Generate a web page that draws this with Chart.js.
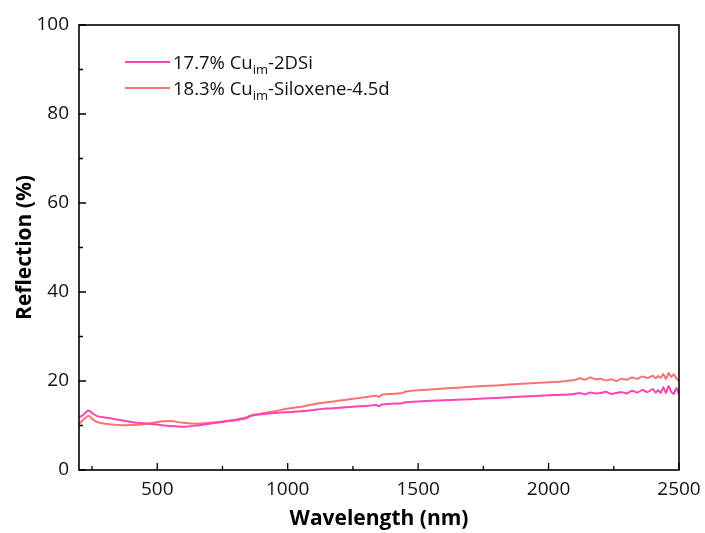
<!DOCTYPE html>
<html>
<head>
<meta charset="utf-8">
<script src="https://cdn.jsdelivr.net/npm/chart.js@4.4.0/dist/chart.umd.min.js"></script>
<style>
  html, body { margin: 0; padding: 0; background: #fff; }
  #wrap { position: relative; width: 705px; height: 533px; }
  canvas { position: absolute; left: 0; top: 0; }
  .leg { position: absolute; left: 125px; height: 26px; font-family: "Open Sans", "Noto Sans", sans-serif; font-size: 18.5px; line-height: 26px; color: #111; white-space: nowrap; }
  .leg .ln { position: absolute; left: 0; top: 12px; width: 45px; height: 2px; }
  .leg .tx { position: absolute; left: 48px; top: 0; }
  .leg sub { font-size: 13px; vertical-align: -5px; line-height: 0; }
</style>
</head>
<body>
<div id="wrap">
  <canvas id="c" width="705" height="533"></canvas>
  <div class="leg" style="top:49px"><span class="ln" style="background:#ff42b4"></span><span class="tx">17.7% Cu<sub>im</sub>-2DSi</span></div>
  <div class="leg" style="top:75px"><span class="ln" style="background:#f97370"></span><span class="tx">18.3% Cu<sub>im</sub>-Siloxene-4.5d</span></div>
</div>
<script>
const wavelengths = [200,215,230,240,250,270,300,350,400,450,500,550,600,650,700,750,800,840,860,900,950,1000,1050,1100,1150,1200,1250,1300,1340,1350,1360,1400,1440,1450,1500,1600,1700,1800,1900,2000,2050,2100,2120,2140,2160,2180,2200,2220,2240,2260,2280,2300,2320,2340,2360,2380,2400,2410,2420,2430,2440,2450,2460,2470,2480,2490,2500];
const series2DSi = [11.8,12.3,13.2,13.3,12.8,12.1,11.8,11.3,10.8,10.5,10.2,9.9,9.7,10.0,10.4,10.8,11.2,11.6,12.2,12.5,12.8,13.0,13.2,13.5,13.8,14.0,14.2,14.4,14.6,14.3,14.7,14.9,15.0,15.2,15.4,15.7,15.9,16.2,16.5,16.8,16.9,17.1,17.3,17.0,17.4,17.2,17.3,17.6,17.1,17.3,17.5,17.2,17.8,17.4,18.0,17.5,18.2,17.4,17.9,17.3,18.6,17.3,18.9,17.6,17.1,18.4,17.0];
const seriesSiloxene = [10.4,11.2,12.0,12.1,11.5,10.8,10.4,10.1,10.1,10.3,10.8,11.0,10.6,10.4,10.6,10.9,11.3,11.8,12.3,12.7,13.2,13.8,14.2,14.8,15.2,15.6,16.0,16.4,16.7,16.4,16.9,17.1,17.3,17.6,17.9,18.3,18.7,19.0,19.4,19.7,19.9,20.2,20.6,20.3,20.8,20.4,20.5,20.1,20.4,20.0,20.5,20.3,20.8,20.5,21.0,20.7,21.2,20.6,21.1,20.7,21.6,20.4,21.8,20.9,21.5,20.6,19.9];
const seriesLabels = ["17.7% Cu_im-2DSi", "18.3% Cu_im-Siloxene-4.5d"];
const xTickLabels = [500,1000,1500,2000,2500];
const yTickLabels = [0,20,40,60,80,100];
const xMinorTicks = [250,500,750,1000,1250,1500,1750,2000,2250,2500];
const yMinorTicks = [0,10,20,30,40,50,60,70,80,90,100];

const FONT = '"Open Sans", "Noto Sans", sans-serif';

const frame = {
  id: 'frame',
  afterDraw(chart) {
    const {ctx, chartArea: a, scales} = chart;
    ctx.save();
    ctx.strokeStyle = '#000';
    ctx.lineWidth = 1.6;
    ctx.strokeRect(a.left, a.top, a.right - a.left, a.bottom - a.top);
    ctx.lineWidth = 1.3;
    ctx.beginPath();
    xMinorTicks.forEach(v => {
      const x = scales.x.getPixelForValue(v);
      const len = xTickLabels.includes(v) ? 7 : 4;
      ctx.moveTo(x, a.bottom); ctx.lineTo(x, a.bottom - len);
    });
    yMinorTicks.forEach(v => {
      const y = scales.y.getPixelForValue(v);
      const len = yTickLabels.includes(v) ? 7 : 4;
      ctx.moveTo(a.left, y); ctx.lineTo(a.left + len, y);
    });
    ctx.stroke();
    ctx.restore();
  }
};

new Chart(document.getElementById('c'), {
  type: 'line',
  data: {
    datasets: [
      { label: seriesLabels[0], data: wavelengths.map((w, i) => ({x: w, y: series2DSi[i]})), borderColor: '#ff42b4', borderWidth: 2, pointRadius: 0, tension: 0.2 },
      { label: seriesLabels[1], data: wavelengths.map((w, i) => ({x: w, y: seriesSiloxene[i]})), borderColor: '#f97370', borderWidth: 2, pointRadius: 0, tension: 0.2 }
    ]
  },
  options: {
    responsive: false,
    animation: false,
    layout: { padding: { left: 0, right: 26, top: 25, bottom: 0 } },
    plugins: { legend: { display: false }, tooltip: { enabled: false } },
    scales: {
      x: {
        type: 'linear', min: 200, max: 2500,
        afterBuildTicks: s => { s.ticks = xTickLabels.map(v => ({value: v})); },
        afterFit: s => { s.height = 63; s.paddingLeft = 0; s.paddingRight = 0; },
        grid: { display: false, drawTicks: false },
        border: { display: false },
        ticks: { padding: 8, color: '#111', font: { family: FONT, size: 19 }, maxRotation: 0, callback: v => String(v) },
        title: { display: true, text: 'Wavelength (nm)', color: '#000', font: { family: FONT, size: 21, weight: 'bold' }, padding: { top: 0, bottom: 1 } }
      },
      y: {
        type: 'linear', min: 0, max: 100,
        afterBuildTicks: s => { s.ticks = yTickLabels.map(v => ({value: v})); },
        afterFit: s => { s.width = 79; s.paddingTop = 0; s.paddingBottom = 0; },
        grid: { display: false, drawTicks: false },
        border: { display: false },
        ticks: { padding: 10, color: '#111', font: { family: FONT, size: 19 }, callback: v => String(v) },
        title: { display: true, text: 'Reflection (%)', color: '#000', font: { family: FONT, size: 21, weight: 'bold' }, padding: { top: 12, bottom: 0 } }
      }
    }
  },
  plugins: [frame]
});
</script>
</body>
</html>
